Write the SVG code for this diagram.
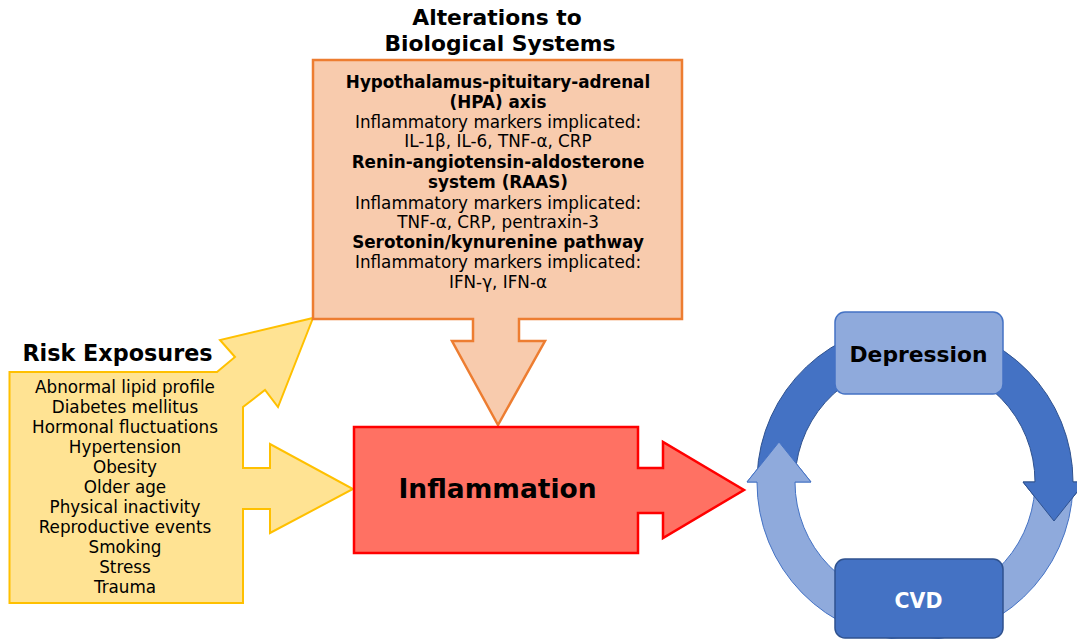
<svg xmlns="http://www.w3.org/2000/svg" width="1077" height="639" viewBox="0 0 1077 639">
<style>
text{font-family:"DejaVu Sans","Verdana",sans-serif;fill:#000}
.b{font-weight:bold}
.risk{fill:#FFE393;stroke:#FFC000;stroke-width:2;stroke-linejoin:miter}
.bio{fill:#F8CBAD;stroke:#ED7D31;stroke-width:2.5}
.inf{fill:#FF7163;stroke:#FF0000;stroke-width:2.5}
.dark{fill:#4472C4;stroke:#2F528F;stroke-width:1}
.light{fill:#8FAADC;stroke:#4472C4;stroke-width:1}
.lst{font-size:16.8px;text-anchor:middle}
.bt{font-size:16.8px;text-anchor:middle}
</style>
<rect width="1077" height="639" fill="#fff"/>

<g id="connectors">
  <path class="dark" d="M757.1,476 A158,158 0 0 1 1073,482 L1085,482 L1054,521 L1023,482 L1035,482 A120,120 0 0 0 795.15,476 Z"/>
  <path class="light" d="M1072.9,488 A158,158 0 0 1 757,482 L747,482 L779,442 L811,482 L795,482 A120,120 0 0 0 1034.85,488 Z"/>
  <path class="light" d="M795,482 L811,482 L779,442 L747,482 L757,482"/>
  <path class="dark" d="M1073,482 L1085,482 L1054,521 L1023,482 L1035,482"/>
</g>

<g id="risk-exposures">
  <path class="risk" d="M9.5,372 L217,372 L235,357 L220,340 L313,318 L278,407 L265,390 L243,407 L243,468 L270,468 L270,444 L353,489 L270,533 L270,509 L243,509 L243,603 L9.5,603 Z"/>
  <text class="b" x="117.5" y="361" font-size="22.3" text-anchor="middle">Risk Exposures</text>
  <text class="lst" x="125" y="393">Abnormal lipid profile</text>
  <text class="lst" x="125" y="413">Diabetes mellitus</text>
  <text class="lst" x="125" y="433">Hormonal fluctuations</text>
  <text class="lst" x="125" y="453">Hypertension</text>
  <text class="lst" x="125" y="473">Obesity</text>
  <text class="lst" x="125" y="493">Older age</text>
  <text class="lst" x="125" y="513">Physical inactivity</text>
  <text class="lst" x="125" y="533">Reproductive events</text>
  <text class="lst" x="125" y="553">Smoking</text>
  <text class="lst" x="125" y="573">Stress</text>
  <text class="lst" x="125" y="593">Trauma</text>
</g>

<g id="biological-systems">
  <text class="b" x="497" y="25" font-size="21.8" text-anchor="middle">Alterations to</text>
  <text class="b" x="500" y="51" font-size="21.8" text-anchor="middle">Biological Systems</text>
  <path class="bio" d="M313,60 L682,60 L682,319 L519,319 L519,341 L545,341 L498,425 L452,341 L473,341 L473,319 L313,319 Z"/>
  <text class="bt b" x="498" y="88">Hypothalamus-pituitary-adrenal</text>
  <text class="bt b" x="498" y="108">(HPA) axis</text>
  <text class="bt" x="498" y="128">Inflammatory markers implicated:</text>
  <text class="bt" x="498" y="147">IL-1β, IL-6, TNF-α, CRP</text>
  <text class="bt b" x="498" y="168">Renin-angiotensin-aldosterone</text>
  <text class="bt b" x="498" y="188">system (RAAS)</text>
  <text class="bt" x="498" y="209">Inflammatory markers implicated:</text>
  <text class="bt" x="498" y="228">TNF-α, CRP, pentraxin-3</text>
  <text class="bt b" x="498" y="248">Serotonin/kynurenine pathway</text>
  <text class="bt" x="498" y="268">Inflammatory markers implicated:</text>
  <text class="bt" x="498" y="288">IFN-γ, IFN-α</text>
</g>

<g id="inflammation">
  <path class="inf" d="M354,427 L638,427 L638,468 L663,468 L663,442 L744,490 L663,538 L663,513 L638,513 L638,553 L354,553 Z"/>
  <text class="b" x="497.5" y="498" font-size="26.5" text-anchor="middle">Inflammation</text>
</g>

<g id="depression">
  <rect x="835" y="312" width="168" height="82" rx="10" fill="#8FAADC" stroke="#4472C4" stroke-width="1.5"/>
  <text class="b" x="918.5" y="362" font-size="21.8" text-anchor="middle">Depression</text>
</g>

<g id="cvd">
  <rect x="835" y="559" width="168" height="79" rx="10" fill="#4472C4" stroke="#2F528F" stroke-width="1.5"/>
  <text class="b" x="918.5" y="608" font-size="20.5" text-anchor="middle" style="fill:#fff">CVD</text>
</g>
</svg>
